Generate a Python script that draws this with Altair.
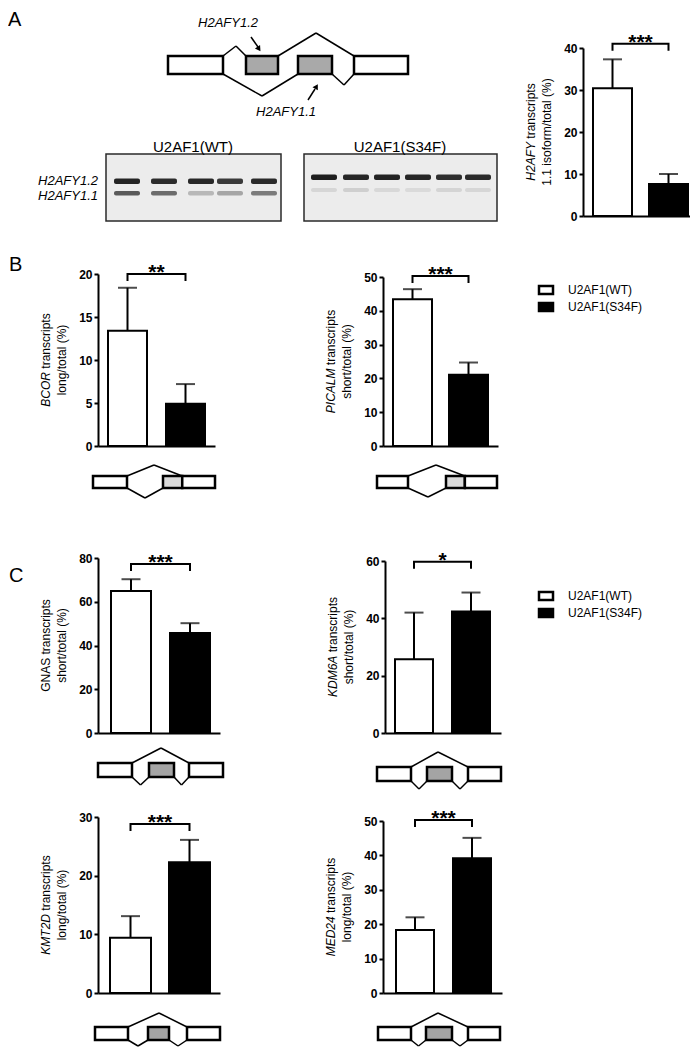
import altair as alt
import pandas as pd

# ---------------- canvas ----------------
W, H = 682, 1042
OFF = 8  # page margin (reference coordinates are page coordinates)
FONT = "Liberation Sans"


def P(v):
    return v - OFF


# ---------------- data ----------------
groups = ["U2AF1(WT)", "U2AF1(S34F)"]
genes = ["H2AFY", "BCOR", "PICALM", "GNAS", "KDM6A", "KMT2D", "MED24"]
wt_mean = [30.4, 13.4, 43.4, 64.9, 25.7, 9.4, 18.3]
wt_err = [37.3, 18.4, 46.4, 70.3, 42.0, 13.1, 22.0]
s34f_mean = [7.6, 4.9, 21.1, 45.7, 42.4, 22.3, 39.2]
s34f_err = [10.0, 7.2, 24.7, 50.2, 49.0, 26.1, 45.1]
y_max = [40, 20, 50, 80, 60, 30, 50]
y_tick_step = [10, 5, 10, 20, 20, 10, 10]
signif = ["***", "**", "***", "***", "*", "***", "***"]
bracket_level = [41.0, 20.0, 50.3, 77.3, 59.7, 28.8, 50.3]
title_italic = ["H2AFY", "BCOR", "PICALM", "", "KDM6A", "KMT2D", "MED24"]
title_rest = ["transcripts", "transcripts", "transcripts", "GNAS transcripts",
              "transcripts", "transcripts", "transcripts"]
title_line2 = ["1.1 isoform/total (%)", "long/total (%)", "short/total (%)",
               "short/total (%)", "short/total (%)", "long/total (%)", "long/total (%)"]
gel_titles = ["U2AF1(WT)", "U2AF1(S34F)"]
gel_band_labels = ["H2AFY1.2", "H2AFY1.1"]
# gel band intensities (grey levels) per lane
gel_wt_upper = ["#242424", "#2c2c2c", "#282828", "#3a3a3a", "#2a2a2a"]
gel_wt_lower = ["#5a5a5a", "#6c6c6c", "#b8b8b8", "#a6a6a6", "#7c7c7c"]
gel_mut_upper = ["#1e1e1e", "#262626", "#222222", "#262626", "#2e2e2e", "#2a2a2a"]
gel_mut_lower = ["#d6d6d6", "#cfcfcf", "#d8d8d8", "#dadada", "#d4d4d4", "#d6d6d6"]

# ---------------- layout (page px) ----------------
LAYOUT = {
    "H2AFY": dict(ax=583, base=216, top=48, start=593, bw=39, gap=17, end=690),
    "BCOR": dict(ax=98, base=446, top=274, start=108, bw=39, gap=19, end=215),
    "PICALM": dict(ax=383, base=446, top=277, start=393, bw=39, gap=17, end=498),
    "GNAS": dict(ax=98, base=733, top=558, start=111, bw=40, gap=19, end=220),
    "KDM6A": dict(ax=385, base=733, top=561, start=395, bw=38, gap=19, end=501),
    "KMT2D": dict(ax=98, base=993, top=817, start=110, bw=41, gap=18, end=220),
    "MED24": dict(ax=383, base=993, top=821, start=396, bw=38, gap=19, end=502),
}

AW = {' ': 278, 't': 278, 'r': 333, 'a': 556, 'n': 556, 's': 500, 'c': 500, 'i': 222,
      'p': 556, 'B': 667, 'C': 722, 'O': 778, 'R': 722, 'H': 722, '2': 556, 'A': 667,
      'F': 611, 'Y': 667, 'P': 667, 'I': 278, 'L': 556, 'M': 833, 'K': 667, 'D': 722,
      'T': 611, 'E': 667, '4': 556, 'G': 778, 'N': 722, 'S': 667, '6': 556}


def tw(s, size):
    return sum(AW.get(ch, 556) for ch in s) * size / 1000.0


# ---------------- bar panels (flat layers, identical explicit scales) ----------------
def bar_panel(i):
    g = genes[i]
    L = LAYOUT[g]
    step = L["bw"] + L["gap"]
    span = L["end"] - L["ax"]
    outer = span - (2 * L["bw"] + L["gap"])

    def xs():
        return alt.Scale(type="band", domain=groups, range=[P(L["ax"]), P(L["end"])],
                         paddingInner=L["gap"] / step, paddingOuter=outer / 2 / step,
                         align=(L["start"] - L["ax"]) / outer)

    def ys():
        return alt.Scale(domain=[0, y_max[i]], range=[P(L["base"]), P(L["top"])],
                         nice=False, zero=True)

    ticks = list(range(0, y_max[i] + 1, y_tick_step[i]))
    xaxis = alt.Axis(orient="bottom", offset=P(L["base"]) - H, labels=False, ticks=False,
                     title=None, grid=False, domainColor="black", domainWidth=2)
    yaxis = alt.Axis(orient="left", offset=-P(L["ax"]), values=ticks, title=None, grid=False,
                     domainColor="black", domainWidth=2, tickColor="black", tickWidth=2,
                     tickSize=4, labelFont=FONT, labelFontSize=12, labelFontWeight="bold",
                     labelColor="black", labelPadding=2, format="d")
    df = pd.DataFrame({"group": groups, "mean": [wt_mean[i], s34f_mean[i]],
                       "err": [wt_err[i], s34f_err[i]], "fill": ["white", "black"]})

    def X(axis=None):
        return alt.X("group:N", scale=xs(), axis=axis)

    def Y(f, axis=None):
        return alt.Y(f, scale=ys(), axis=axis)

    bars = alt.Chart(df).mark_bar(stroke="black", strokeWidth=2).encode(
        x=X(xaxis), y=Y("mean:Q", yaxis), fill=alt.Fill("fill:N", scale=None))
    errs = alt.Chart(df).mark_rule(color="black", strokeWidth=2).encode(
        x=X(), y=Y("mean:Q"), y2="err:Q")
    caps = alt.Chart(df).mark_tick(color="black", thickness=2, size=19,
                                   orient="horizontal").encode(x=X(), y=Y("err:Q"))
    drop = 7.0 * y_max[i] / (L["base"] - L["top"])
    lvl = bracket_level[i]
    br = pd.DataFrame({"group": [groups[0], groups[0], groups[1], groups[1]],
                       "v": [lvl - drop, lvl, lvl, lvl - drop], "o": [0, 1, 2, 3]})
    bracket = alt.Chart(br).mark_line(color="black", strokeWidth=2, strokeJoin="miter").encode(
        x=X(), y=Y("v:Q"), order="o:Q")
    st = pd.DataFrame({"group": [groups[0]], "v": [lvl], "t": [signif[i]]})
    stars = alt.Chart(st).mark_text(dx=step / 2, dy=5, baseline="alphabetic", align="center",
                                    fontSize=21, fontWeight="bold", font=FONT,
                                    color="black").encode(x=X(), y=Y("v:Q"), text="t:N")
    return [errs, caps, bars, bracket, stars]


panel_layers = []
for i in range(len(genes)):
    panel_layers += bar_panel(i)

# ---------------- decorations ----------------
rects = []
segs = []


def box(x1, x2, y1, y2, fill):
    rects.append(dict(x=P(x1), x2=P(x2), y=P(y1), y2=P(y2), fill=fill))


def poly(pts):
    for a, b in zip(pts, pts[1:]):
        segs.append(dict(x=P(a[0]), y=P(a[1]), x2=P(b[0]), y2=P(b[1])))


# panel A gene diagram
GA = "#a9a9a9"
box(168, 223, 56, 74, "white")
box(246, 278, 56, 74, GA)
box(298, 332, 56, 74, GA)
box(354, 408, 56, 74, "white")
poly([(223, 56), (236, 46), (246, 56)])
poly([(278, 56), (316, 33), (354, 56)])
poly([(223, 74), (262, 96), (298, 74)])
poly([(332, 74), (344, 85), (354, 74)])
poly([(251, 37), (258, 47)])
poly([(308, 100), (315, 89)])
arrows = pd.DataFrame({"x": [P(259), P(316.5)], "y": [P(49), P(86.5)], "ang": [146, 30]})


# panel B diagrams (left exon, junction-adjacent light exon + right exon)
def diag_b(l1, l2, g1, r2, y1, y2, px, py, tx, ty):
    jx = g1 + (r2 - g1) * 0.37
    poly([(l2, y1), (px, py), (jx, y1)])
    poly([(l2, y2), (tx, ty), (g1, y2)])
    box(l1, l2, y1, y2, "white")
    box(g1, jx, y1, y2, "#d9d9d9")
    box(jx, r2, y1, y2, "white")


diag_b(93, 127, 163, 215, 476, 488, 154, 465, 145, 498)
diag_b(377, 408, 446, 497, 476, 488, 436, 465, 428, 497)


# panel C diagrams (cassette exon)
def diag_c(l1, l2, g1, g2, r1, r2, y1, y2, px, py, bump):
    poly([(l2, y1), (px, py), (r1, y1)])
    poly([(l2, y2), ((l2 + g1) / 2, y2 + bump), (g1, y2)])
    poly([(g2, y2), ((g2 + r1) / 2, y2 + bump), (r1, y2)])
    box(l1, l2, y1, y2, "white")
    box(g1, g2, y1, y2, "#a4a4a4")
    box(r1, r2, y1, y2, "white")


diag_c(98, 132, 149, 174, 189, 223, 763, 777, 161, 748, 8)
diag_c(377, 411, 427, 452, 468, 501, 767, 781, 438, 752, 8)
diag_c(95, 128, 148, 169, 187, 220, 1027, 1040, 159, 1013, 6)
diag_c(378, 411, 426, 452, 468, 500, 1027, 1040, 438, 1013, 6)

# legends (B and C)
LEG_Y = (290, 596)
for ly in LEG_Y:
    box(539, 553, ly - 4, ly + 4, "white")
    box(539, 553, ly + 13, ly + 21, "black")

seg_df = pd.DataFrame(segs)
rect_df = pd.DataFrame(rects)


def XN(f):
    return alt.X(f, scale=None, axis=None)


def YN(f):
    return alt.Y(f, scale=None, axis=None)


seg_layer = alt.Chart(seg_df).mark_rule(color="black", strokeWidth=1.5).encode(
    x=XN("x:Q"), y=YN("y:Q"), x2="x2:Q", y2="y2:Q")
rect_layer = alt.Chart(rect_df).mark_rect(stroke="black", strokeWidth=2.5).encode(
    x=XN("x:Q"), y=YN("y:Q"), x2="x2:Q", y2="y2:Q", fill=alt.Fill("fill:N", scale=None))
arrow_layer = alt.Chart(arrows).mark_point(shape="triangle-up", filled=True, color="black",
                                           size=38, opacity=1).encode(
    x=XN("x:Q"), y=YN("y:Q"), angle=alt.Angle("ang:Q", scale=None))

# gel
gel_boxes = pd.DataFrame({"x": [P(106), P(304)], "x2": [P(281), P(497)],
                          "y": [P(154), P(154)], "y2": [P(221), P(221)]})
gel_box_layer = alt.Chart(gel_boxes).mark_rect(fill="#ececec", stroke="#2a2a2a",
                                               strokeWidth=1.5).encode(
    x=XN("x:Q"), y=YN("y:Q"), x2="x2:Q", y2="y2:Q")
wt_lanes = [127, 164, 201, 230, 264]
mut_lanes = [324, 356, 387, 418, 449, 478]
bands = []
for cx, cu, cl in zip(wt_lanes, gel_wt_upper, gel_wt_lower):
    bands.append(dict(x=P(cx - 13), x2=P(cx + 13), y=P(178.5), y2=P(184), c=cu))
    bands.append(dict(x=P(cx - 13), x2=P(cx + 13), y=P(191), y2=P(195.5), c=cl))
for cx, cu, cl in zip(mut_lanes, gel_mut_upper, gel_mut_lower):
    bands.append(dict(x=P(cx - 13), x2=P(cx + 13), y=P(174.5), y2=P(180), c=cu))
    bands.append(dict(x=P(cx - 13), x2=P(cx + 13), y=P(188), y2=P(192), c=cl))
band_layer = alt.Chart(pd.DataFrame(bands)).mark_rect(cornerRadius=2).encode(
    x=XN("x:Q"), y=YN("y:Q"), x2="x2:Q", y2="y2:Q", fill=alt.Fill("c:N", scale=None))


# ---------------- texts ----------------
def text_layer(rows, **props):
    df = pd.DataFrame(rows)
    return alt.Chart(df).mark_text(font=FONT, color="black", **props).encode(
        x=XN("x:Q"), y=YN("y:Q"), text="t:N")


letters = text_layer([dict(x=0, y=2, t="A"), dict(x=P(9), y=P(255), t="B"),
                      dict(x=P(9), y=P(566), t="C")],
                     fontSize=20, align="left", baseline="top")
gel_title_layer = text_layer([dict(x=P(193), y=P(147), t=gel_titles[0]),
                              dict(x=P(400), y=P(147), t=gel_titles[1])],
                             fontSize=15, align="center", baseline="middle")
diag_labels = text_layer([dict(x=P(228), y=P(23), t="H2AFY1.2"),
                          dict(x=P(286), y=P(112), t="H2AFY1.1")],
                         fontSize=13, fontStyle="italic", align="center", baseline="middle")
gel_labels = text_layer([dict(x=P(98), y=P(181), t=gel_band_labels[0]),
                         dict(x=P(98), y=P(196), t=gel_band_labels[1])],
                        fontSize=13, fontStyle="italic", align="right", baseline="middle")
legend_text = []
for ly in LEG_Y:
    legend_text.append(dict(x=P(568), y=P(ly), t=groups[0]))
    legend_text.append(dict(x=P(568), y=P(ly + 17), t=groups[1]))
legend_layer = text_layer(legend_text, fontSize=12, align="left", baseline="middle")

it_rows, rest_rows, l2_rows = [], [], []
SP = tw(" ", 12)
for i, g in enumerate(genes):
    L = LAYOUT[g]
    cy = (L["base"] + L["top"]) / 2.0
    x1, x2 = L["ax"] - 52, L["ax"] - 36
    wi = tw(title_italic[i], 12) + (SP if title_italic[i] else 0)
    wr = tw(title_rest[i], 12)
    yb = cy + (wi + wr) / 2.0
    if title_italic[i]:
        it_rows.append(dict(x=P(x1), y=P(yb), t=title_italic[i]))
    rest_rows.append(dict(x=P(x1), y=P(yb - wi), t=title_rest[i]))
    l2_rows.append(dict(x=P(x2), y=P(cy), t=title_line2[i]))

title_it = text_layer(it_rows, fontSize=12, fontStyle="italic", angle=270, align="left",
                      baseline="middle")
title_rest_l = text_layer(rest_rows, fontSize=12, angle=270, align="left", baseline="middle")
title_l2 = text_layer(l2_rows, fontSize=12, angle=270, align="center", baseline="middle")

chart = alt.layer(
    gel_box_layer, band_layer, seg_layer, rect_layer, arrow_layer,
    *panel_layers,
    letters, gel_title_layer, diag_labels, gel_labels, legend_layer,
    title_it, title_rest_l, title_l2,
).resolve_scale(x="independent", y="independent").properties(
    width=W, height=H, padding=0,
    autosize=alt.AutoSizeParams(type="none"),
).configure_view(stroke=None)

chart.save("out.html", embed_options={"renderer": "svg", "actions": False})
